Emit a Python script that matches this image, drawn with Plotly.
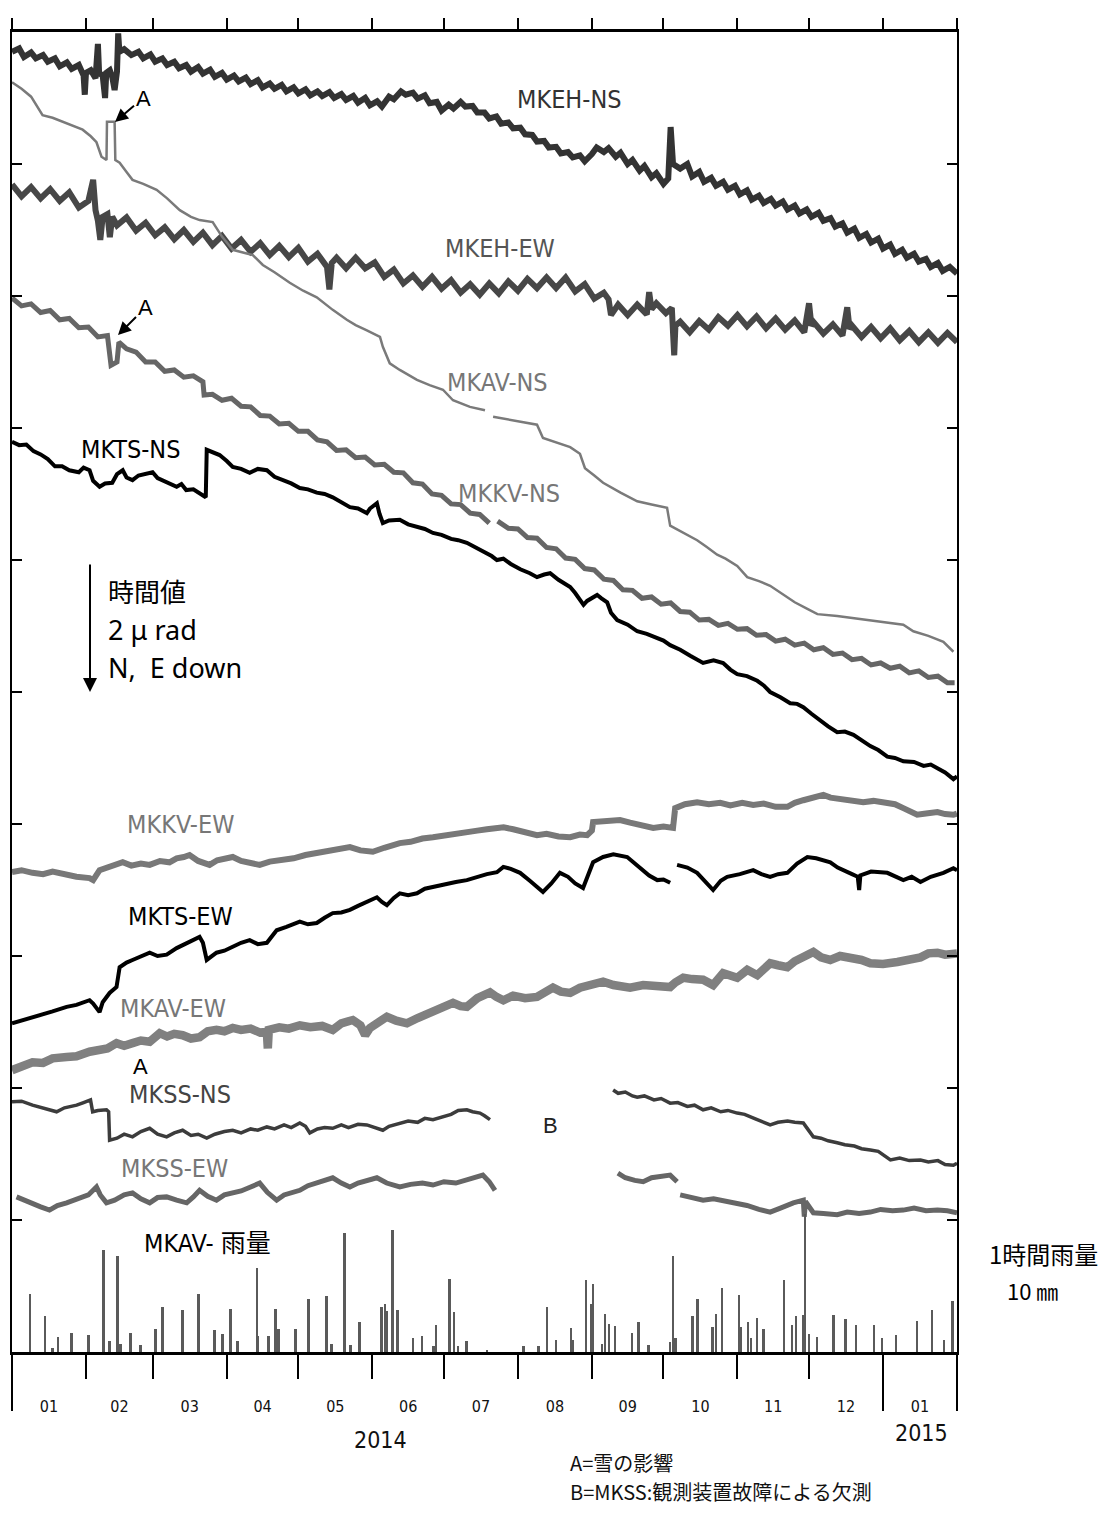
import plotly.graph_objects as go
import pandas as pd

START = pd.Timestamp("2014-01-01")
END = pd.Timestamp("2015-02-01")

# Tilt series: [day offset from 2014-01-01, tilt in µrad (down = positive offset)]; None = missing data
MKEH_NS = [[0,.30],[3,.25],[5,.38],[8,.31],[10,.40],[13,.35],[15,.45],[18,.40],[20,.52],[23,.46],[25,.56],[28,.50],[30,.66],[30.5,.95],[31,.62],[33,.58],[35,.70],[36,.18],[36.5,.62],[38,.66],[39,1.00],[39.5,.62],[41,.58],[42,.68],[43,.88],[44,.60],[44.5,.02],[45,.30],[47,.26],[50,.35],[53,.30],[55,.40],[58,.34],[60,.45],[63,.40],[65,.50],[68,.45],[70,.55],[73,.50],[75,.60],[78,.53],[80,.63],[83,.57],[85,.68],[88,.62],[90,.72],[93,.66],[95,.75],[98,.69],[100,.79],[103,.73],[105,.84],[108,.78],[110,.86],[113,.80],[115,.90],[118,.84],[120,.93],[123,.87],[125,.96],[128,.90],[130,.97],[133,.91],[135,1.00],[138,.94],[140,1.03],[143,.97],[145,1.07],[148,1.00],[150,1.11],[153,1.05],[155,1.13],[158,.98],[160,1.02],[163,.90],[165,.95],[168,.92],[170,1.01],[173,.96],[175,1.08],[178,1.06],[180,1.19],[183,1.10],[185,1.16],[188,1.06],[190,1.13],[193,1.12],[195,1.22],[198,1.22],[200,1.31],[203,1.28],[205,1.39],[208,1.37],[210,1.46],[213,1.45],[215,1.55],[218,1.56],[220,1.66],[223,1.65],[225,1.75],[228,1.74],[230,1.84],[233,1.82],[235,1.90],[238,1.87],[240,1.96],[243,1.85],[245,1.75],[248,1.82],[250,1.76],[253,1.89],[255,1.83],[258,2.00],[260,1.94],[263,2.10],[265,2.03],[268,2.20],[270,2.14],[273,2.30],[275,2.22],[276,1.44],[277,2.00],[280,2.07],[283,2.00],[285,2.19],[288,2.12],[290,2.27],[293,2.21],[295,2.33],[298,2.27],[300,2.39],[303,2.33],[305,2.46],[308,2.40],[310,2.54],[313,2.48],[315,2.59],[318,2.53],[320,2.63],[323,2.57],[325,2.69],[328,2.63],[330,2.75],[333,2.69],[335,2.80],[338,2.74],[340,2.86],[343,2.82],[345,2.95],[348,2.90],[350,3.04],[353,2.98],[355,3.12],[358,3.06],[360,3.19],[363,3.13],[365,3.28],[368,3.22],[370,3.36],[373,3.30],[375,3.42],[378,3.36],[380,3.48],[383,3.44],[385,3.56],[388,3.50],[390,3.62],[393,3.56],[396,3.66]]

MKEH_EW = [[0,2.31],[4,2.49],[8,2.35],[12,2.52],[16,2.38],[20,2.56],[24,2.43],[28,2.66],[32,2.56],[34,2.24],[35,2.70],[36,2.86],[37,3.15],[38,2.80],[40,2.76],[41,3.11],[42,2.80],[44,2.93],[48,2.81],[52,3.01],[56,2.89],[60,3.08],[64,2.96],[68,3.14],[72,3.00],[76,3.18],[80,3.04],[84,3.23],[88,3.09],[92,3.28],[96,3.15],[100,3.33],[104,3.20],[108,3.38],[112,3.24],[116,3.41],[120,3.27],[124,3.48],[128,3.36],[132,3.56],[133,3.90],[134,3.50],[136,3.42],[140,3.58],[144,3.42],[148,3.58],[152,3.49],[156,3.71],[160,3.60],[164,3.81],[168,3.69],[172,3.86],[176,3.71],[180,3.89],[184,3.76],[188,3.95],[192,3.82],[196,3.98],[200,3.81],[204,3.96],[208,3.78],[212,3.92],[216,3.74],[220,3.88],[224,3.72],[228,3.88],[232,3.72],[236,3.93],[240,3.82],[244,4.04],[248,3.95],[250,4.05],[251,4.29],[254,4.13],[258,4.29],[262,4.13],[266,4.28],[267,3.94],[268,4.20],[270,4.11],[274,4.26],[276.5,4.18],[277,4.55],[277.5,4.90],[278,4.45],[280,4.39],[284,4.55],[288,4.38],[292,4.51],[296,4.32],[300,4.45],[304,4.29],[308,4.46],[312,4.31],[316,4.49],[320,4.34],[324,4.51],[328,4.37],[332,4.55],[334,4.11],[335,4.45],[336,4.40],[340,4.57],[344,4.43],[348,4.60],[350,4.17],[351,4.50],[352,4.45],[356,4.62],[360,4.47],[364,4.64],[368,4.49],[372,4.67],[376,4.53],[380,4.70],[384,4.55],[388,4.71],[392,4.56],[396,4.70]]

MKAV_NS = [[0,.76],[4,.86],[8,.98],[12.8,1.26],[17,1.30],[22.9,1.38],[26,1.43],[29.6,1.48],[33,1.58],[35.4,1.67],[37.5,1.89],[39.6,1.94],[39.8,1.36],[43,1.36],[43.3,1.94],[45.1,1.98],[48,2.12],[50.5,2.24],[55,2.30],[60.6,2.39],[65,2.52],[70.3,2.70],[75,2.80],[78.6,2.85],[84.1,2.88],[88,3.10],[92.5,3.30],[96,3.33],[100.9,3.38],[105.1,3.53],[110,3.64],[116.4,3.80],[122,3.92],[127.7,4.02],[134.4,4.21],[140.3,4.36],[144,4.44],[148.7,4.52],[154.2,4.62],[155.4,4.77],[158.3,5.02],[162.5,5.12],[169.7,5.27],[175,5.35],[180.6,5.42],[184.8,5.58],[188,5.62],[191.9,5.68],[198.2,5.73],[200,None],[201.6,5.83],[210,5.88],[220,5.95],[222.5,6.15],[228,6.22],[233.9,6.29],[238,6.39],[240.1,6.61],[244,6.72],[247.7,6.83],[255,6.98],[262,7.11],[268,7.16],[274.5,7.21],[275.8,7.48],[281,7.58],[287.1,7.70],[291,7.80],[295.5,7.92],[299,7.98],[303.9,8.09],[308.1,8.26],[313,8.32],[317.7,8.39],[323.2,8.53],[328,8.64],[333.3,8.74],[337.5,8.82],[345.8,8.85],[352,8.88],[359.7,8.91],[366,8.94],[373.5,8.98],[377.7,9.08],[384,9.15],[390.3,9.24],[394.5,9.39]]

MKKV_NS = [[0,4.03],[4,4.15],[8,4.12],[12,4.25],[16,4.22],[20,4.36],[24,4.34],[28,4.48],[32,4.47],[36,4.62],[40,4.60],[41.5,5.05],[44,5.00],[44.8,4.70],[48,4.80],[52,4.85],[56,5.00],[60,5.00],[64,5.14],[68,5.12],[72,5.23],[76,5.21],[80,5.30],[80.5,5.50],[84,5.49],[88,5.58],[92,5.55],[96,5.67],[100,5.68],[104,5.81],[108,5.82],[112,5.94],[116,5.93],[120,6.05],[124,6.05],[128,6.18],[132,6.21],[136,6.34],[140,6.33],[144,6.45],[148,6.44],[152,6.56],[156,6.55],[160,6.67],[164,6.68],[168,6.83],[172,6.85],[176,7.00],[180,7.02],[184,7.15],[188,7.16],[192,7.29],[196,7.31],[200,7.44],[202,None],[203.5,7.41],[208,7.52],[212,7.53],[216,7.66],[220,7.67],[224,7.81],[228,7.83],[232,7.97],[236,7.99],[240,8.13],[244,8.15],[248,8.29],[252,8.31],[256,8.45],[260,8.46],[264,8.58],[268,8.56],[272,8.67],[276,8.65],[280,8.78],[284,8.79],[288,8.91],[292,8.90],[296,8.99],[300,8.96],[304,9.05],[308,9.04],[312,9.14],[316,9.13],[320,9.23],[324,9.20],[328,9.29],[332,9.26],[336,9.36],[340,9.33],[344,9.43],[348,9.41],[352,9.51],[356,9.49],[360,9.59],[364,9.56],[368,9.64],[372,9.61],[376,9.71],[380,9.68],[384,9.78],[388,9.76],[392,9.86],[395,9.86]]

MKTS_NS = [[0,6.21],[3,6.26],[6,6.25],[9,6.35],[12,6.40],[15,6.47],[18,6.58],[21,6.58],[24,6.64],[28,6.67],[30,6.60],[32.5,6.64],[34,6.80],[36.7,6.89],[39,6.84],[42,6.83],[44,6.70],[46.4,6.64],[48,6.75],[50.5,6.79],[53,6.72],[56,6.70],[58.9,6.67],[61,6.76],[63,6.79],[66,6.84],[69,6.89],[71,6.85],[73,6.94],[76,6.93],[79.9,7.02],[81.2,7.05],[81.6,6.33],[84,6.36],[87,6.41],[90,6.50],[92.5,6.59],[96,6.62],[99.6,6.68],[103,6.62],[106.8,6.64],[110,6.74],[113.5,6.79],[117,6.84],[120.6,6.91],[124,6.93],[127.7,6.98],[131,7.00],[134.4,7.05],[138,7.13],[141.6,7.20],[145,7.22],[148.7,7.29],[150,7.22],[152.9,7.14],[154,7.30],[155.4,7.44],[158,7.40],[162.5,7.39],[166,7.46],[169.7,7.50],[173,7.53],[176.4,7.59],[180,7.62],[184,7.68],[187,7.70],[190.6,7.74],[194,7.80],[198,7.88],[201,7.94],[203.2,8.00],[205.9,7.98],[209,8.06],[213,8.14],[217,8.20],[220,8.26],[223,8.22],[225.5,8.20],[229,8.30],[233.9,8.41],[236,8.50],[239.5,8.68],[241,8.62],[245.2,8.53],[247,8.58],[249.4,8.64],[251,8.80],[253.6,8.91],[258,8.98],[262,9.08],[266,9.12],[270.3,9.18],[273,9.22],[275.8,9.29],[280,9.36],[284.2,9.45],[287,9.50],[289.6,9.56],[294,9.52],[298,9.56],[301,9.66],[303.9,9.73],[308,9.76],[312.3,9.83],[315,9.90],[317.7,10.00],[322,10.08],[326.1,10.17],[329,10.18],[331.6,10.23],[335,10.33],[338.7,10.44],[342,10.52],[345.8,10.61],[349,10.60],[352.6,10.65],[356,10.74],[359.7,10.82],[363,10.88],[366.8,10.98],[370,11.00],[373.5,11.05],[378,11.06],[382,11.12],[385,11.10],[387.8,11.15],[391,11.22],[394.5,11.32],[396,11.28]]

MKKV_EW = [[0,12.73],[4,12.70],[8.6,12.74],[13,12.76],[17,12.72],[22.9,12.77],[27,12.80],[32.5,12.82],[34,12.85],[36.7,12.70],[40,12.66],[43,12.62],[46.4,12.58],[50,12.63],[54,12.60],[57.7,12.62],[62,12.56],[66,12.58],[69,12.52],[72,12.50],[74.4,12.47],[78,12.56],[82.8,12.62],[86,12.55],[89,12.53],[92.5,12.50],[96,12.56],[100,12.60],[103.8,12.62],[108,12.57],[113.5,12.55],[118,12.52],[123,12.47],[127.7,12.44],[132,12.42],[137,12.38],[141.6,12.35],[146,12.40],[151.2,12.42],[156,12.36],[162.5,12.29],[167,12.27],[172,12.22],[176.4,12.20],[181,12.18],[186,12.16],[190.6,12.14],[195,12.10],[199,12.08],[203.2,12.05],[206,12.05],[210,12.08],[214,12.12],[220,12.17],[224,12.15],[229,12.19],[233.9,12.20],[238,12.16],[241,12.17],[243,12.10],[243.5,11.97],[248,11.95],[254.8,11.94],[259,11.98],[264,12.03],[268.7,12.06],[273,12.04],[277,12.06],[277.9,11.76],[282,11.70],[287.1,11.67],[292,11.70],[296.8,11.68],[301,11.72],[306,11.68],[310.6,11.71],[315,11.69],[320,11.74],[324.9,11.74],[328,11.68],[331.6,11.64],[336,11.60],[340,11.56],[343,11.60],[345.8,11.61],[351,11.64],[356.7,11.67],[361,11.65],[366.8,11.67],[370,11.70],[373.5,11.76],[377,11.82],[379.3,11.86],[383,11.84],[387.8,11.82],[391,11.85],[394.5,11.86],[396,11.84]]

MKTS_EW = [[0,15.02],[4,14.98],[8.6,14.92],[13,14.88],[17,14.84],[22.9,14.77],[27,14.74],[32.5,14.67],[34,14.72],[36.7,14.85],[38,14.70],[40.9,14.56],[43.8,14.47],[45.1,14.17],[48,14.10],[50.5,14.06],[54,14.00],[57.7,13.95],[61,14.00],[64.8,13.98],[69,13.88],[73.2,13.80],[76,13.76],[78.6,13.71],[80,13.80],[81.6,14.06],[85.7,13.95],[89,13.92],[92.5,13.86],[96,13.80],[99.6,13.76],[103,13.82],[106.8,13.80],[110.9,13.61],[115,13.56],[120.6,13.48],[124,13.52],[127.7,13.50],[131,13.42],[134.4,13.35],[138,13.34],[141.6,13.30],[145,13.24],[148.7,13.18],[152.9,13.11],[155,13.18],[157.1,13.23],[160,13.12],[162.5,13.05],[166,13.08],[169.7,13.05],[173,12.98],[176.4,12.95],[181,12.92],[186,12.88],[190.6,12.85],[195,12.80],[199,12.76],[203.2,12.73],[205.9,12.65],[209,12.68],[212.9,12.74],[217,12.86],[222.5,13.03],[226,12.90],[229.6,12.74],[233,12.80],[236,12.90],[239.3,12.97],[241,12.80],[243.5,12.58],[247.7,12.50],[252,12.46],[257.8,12.50],[261,12.60],[264.5,12.70],[267,12.78],[270.4,12.85],[273,12.84],[275.8,12.89],[276.5,None],[278.7,12.62],[283,12.66],[287.1,12.74],[290,12.86],[293.8,13.00],[297,12.86],[299.7,12.80],[305,12.76],[310.6,12.70],[314,12.76],[317.7,12.80],[321,12.76],[324.9,12.74],[329,12.60],[333.3,12.50],[337,12.52],[342.9,12.58],[346,12.66],[350.2,12.74],[352,12.76],[354.4,12.80],[355,13.00],[355.5,12.78],[360,12.72],[366.8,12.74],[370,12.80],[373.5,12.85],[377,12.80],[380.7,12.88],[385,12.80],[390.3,12.74],[394.5,12.67],[396,12.70]]

MKAV_EW = [[0,15.73],[4,15.66],[8.6,15.61],[13,15.62],[17,15.55],[22.9,15.53],[27,15.52],[32.5,15.45],[37,15.40],[40,15.40],[43.8,15.32],[47,15.36],[50.5,15.32],[54,15.28],[57.7,15.30],[61.9,15.17],[65,15.22],[68,15.18],[71.5,15.20],[75,15.25],[78.6,15.23],[82,15.14],[85.7,15.12],[89,15.14],[92.5,15.09],[96,15.12],[100,15.10],[104,15.16],[106.8,15.15],[107.2,15.40],[107.6,15.12],[112,15.08],[116,15.10],[120.6,15.05],[125,15.08],[130,15.06],[134.4,15.12],[138,15.02],[142.8,14.97],[146,15.05],[148,15.20],[150,15.09],[154,14.98],[157.1,14.92],[161,14.98],[165.5,15.02],[170,14.94],[176.4,14.85],[180,14.80],[184.8,14.71],[188,14.76],[190.6,14.77],[195,14.64],[200.3,14.55],[203,14.62],[205.9,14.67],[210,14.60],[215,14.64],[220,14.62],[223,14.55],[226.7,14.48],[230,14.54],[233.9,14.56],[238,14.48],[242,14.44],[247.7,14.39],[252,14.44],[256,14.46],[259,14.48],[264.5,14.44],[270,14.46],[275.8,14.47],[278,14.40],[281.3,14.33],[285,14.35],[289.6,14.36],[293.8,14.44],[296,14.36],[298,14.26],[303.9,14.33],[308.1,14.21],[312.3,14.29],[315,14.20],[317.7,14.11],[321,14.14],[324.9,14.17],[328,14.08],[331.6,14.02],[335.8,13.94],[339,14.02],[342.9,14.06],[347,14.00],[352.6,14.03],[356,14.06],[359.7,14.11],[365,14.12],[371,14.09],[376,14.05],[380.7,14.02],[384,13.96],[387.8,13.95],[391,13.98],[394.5,13.98],[396,13.96]]

MKSS_NS = [[0,16.21],[4,16.20],[8.6,16.26],[13,16.30],[18.7,16.36],[22,16.30],[27.1,16.26],[30,16.22],[32.9,16.18],[33.8,16.36],[36,16.34],[39.6,16.33],[40.5,16.36],[40.9,16.79],[44,16.76],[47,16.70],[50.5,16.74],[54,16.66],[57.7,16.61],[61,16.70],[64.8,16.74],[68,16.68],[71.5,16.64],[75,16.72],[78,16.70],[81.6,16.76],[85,16.70],[89,16.66],[92.5,16.64],[96,16.68],[100,16.62],[103,16.64],[106.8,16.59],[110,16.62],[114,16.56],[117,16.60],[120.6,16.53],[123,16.58],[124.8,16.68],[128,16.62],[131,16.60],[134.4,16.61],[138,16.56],[141,16.60],[145,16.55],[148.7,16.56],[152,16.60],[155.4,16.64],[158,16.58],[162.5,16.53],[166,16.50],[170,16.52],[173,16.46],[176.4,16.48],[180,16.44],[184,16.40],[187,16.34],[190.6,16.33],[193,16.36],[196.1,16.38],[198,16.42],[200.3,16.48],[226,None],[251.9,16.03],[254,16.08],[257,16.06],[260,16.12],[262,16.14],[265,16.12],[269,16.18],[272,16.16],[275.8,16.23],[279,16.22],[283,16.28],[286,16.26],[289.6,16.33],[293,16.30],[297,16.36],[300,16.34],[303.9,16.38],[307,16.40],[311,16.46],[314,16.50],[317.7,16.56],[321,16.52],[325,16.50],[328,16.52],[331.6,16.53],[333,16.60],[335.8,16.74],[339,16.76],[342,16.80],[345.8,16.83],[349,16.86],[353,16.88],[356,16.92],[359.7,16.94],[363,16.96],[368.1,17.09],[372,17.06],[376,17.10],[380.7,17.09],[384,17.12],[388,17.10],[391,17.16],[394.5,17.17],[396,17.14]]

MKSS_EW = [[1.9,17.65],[5,17.70],[8.6,17.74],[12,17.80],[15.7,17.85],[19,17.78],[22.9,17.74],[26,17.70],[29.6,17.65],[32,17.62],[35.4,17.50],[37,17.62],[39.6,17.74],[43,17.70],[47,17.62],[50.5,17.59],[54,17.68],[57.7,17.74],[61,17.66],[64.8,17.65],[69,17.70],[73.2,17.74],[76,17.65],[78.6,17.55],[82,17.64],[85.7,17.70],[89,17.62],[92.5,17.59],[96,17.56],[100,17.50],[103.8,17.44],[107,17.58],[110.9,17.70],[114,17.62],[117,17.58],[120.6,17.55],[124,17.48],[129,17.42],[134.4,17.36],[138,17.44],[141.6,17.50],[145,17.44],[149,17.40],[152.9,17.36],[157,17.44],[162.5,17.50],[167,17.46],[172,17.44],[176.4,17.47],[181,17.42],[186,17.44],[190.6,17.39],[194,17.36],[197.3,17.32],[200,17.42],[202.4,17.55],[228,None],[253.9,17.29],[257,17.36],[261,17.40],[264.5,17.42],[268,17.36],[272,17.34],[275.8,17.32],[278.7,17.42],[279.3,None],[280,17.62],[284,17.66],[289.6,17.70],[294,17.68],[299,17.72],[303.9,17.74],[308,17.78],[313,17.84],[317.7,17.88],[322,17.82],[327.4,17.74],[331.6,17.70],[332,17.95],[332.5,17.72],[335.8,17.89],[340,17.90],[345.8,17.92],[350,17.88],[355,17.90],[359.7,17.88],[364,17.84],[369,17.86],[373.5,17.85],[378,17.82],[383,17.86],[387.8,17.85],[392,17.86],[396,17.89]]

# Hourly rainfall at MKAV: [day offset, mm]
RAIN = [[7.6,8.8],[13.9,5.5],[17.0,0.6],[19.5,2.3],[25.0,2.9],[32.1,2.6],[38.4,15.5],[40.9,1.7],[44.3,14.5],[45.5,1.2],[49.7,2.9],[53.9,1.1],[60.2,3.5],[63.1,6.8],[71.5,6.4],[78.2,8.8],[84.9,3.3],[88.3,2.7],[91.7,6.5],[94.6,1.7],[102.8,12.7],[103.3,2.4],[107.6,2.4],[110.5,6.5],[111.8,3.5],[118.9,3.5],[124.4,8.0],[131.9,8.5],[134.0,1.2],[139.5,18.0],[142.0,1.1],[145.8,4.5],[155.0,6.8],[156.3,7.3],[157.3,6.2],[159.6,18.5],[161.7,6.4],[168.2,2.1],[172.0,2.4],[176.8,0.9],[177.8,4.1],[183.5,11.1],[185.4,6.1],[186.9,0.9],[190.6,1.7],[199.2,0.3],[214.4,0.9],[220.8,0.9],[224.2,6.8],[228.0,1.8],[234.3,3.6],[235.3,1.8],[240.6,10.9],[242.7,7.3],[243.5,10.3],[247.3,1.2],[248.7,5.8],[250.2,4.2],[252.7,3.9],[259.9,2.9],[262.7,4.5],[266.8,1.1],[275.8,1.5],[277.1,14.5],[278.1,2.1],[285.3,5.5],[287.4,8.0],[293.7,3.8],[295.1,5.8],[297.6,9.7],[304.8,8.6],[305.6,3.8],[308.5,4.5],[309.8,2.1],[312.2,5.2],[315.1,3.5],[323.6,10.9],[327.0,4.1],[328.7,5.5],[331.6,5.6],[332.3,20.9],[334.0,2.7],[337.4,2.3],[344.4,5.6],[349.4,5.0],[353.7,4.1],[361.4,4.1],[364.7,2.1],[370.6,2.6],[379.4,4.7],[385.7,6.4],[390.7,1.8],[394.3,7.7]]

MONTH_LABELS = ["01", "02", "03", "04", "05", "06", "07", "08", "09", "10", "11", "12", "01"]
YEAR_LABELS = ["2014", "2015"]

NARROW = "DejaVu Sans Condensed, Liberation Sans Narrow, Noto Sans, Noto Sans CJK JP, sans-serif"
JP = "Noto Sans CJK JP, sans-serif"
LATIN = "Noto Sans, sans-serif"

OFF = 8  # page body margin of the browser
W, H = 1095, 1498
ML, MT = 4, 24
PW, PH = 945, 1320
MR = W - ML - PW
MB = H - MT - PH


def to_dates(days):
    return [START + pd.Timedelta(days=d) for d in days]


def P(px, py):
    # reference-image pixel position -> paper coordinates
    return (px - OFF - ML) / PW, (MT + PH - (py - OFF)) / PH


fig = go.Figure()

series = [
    (MKEH_NS, "#333333", 6.0),
    (MKEH_EW, "#474747", 6.0),
    (MKAV_NS, "#7a7a7a", 2.5),
    (MKKV_NS, "#666666", 5.0),
    (MKTS_NS, "#000000", 4.0),
    (MKKV_EW, "#787878", 6.0),
    (MKTS_EW, "#000000", 4.0),
    (MKAV_EW, "#808080", 8.5),
    (MKSS_NS, "#3c3c3c", 3.5),
    (MKSS_EW, "#666666", 5.0),
]
for data, color, width in series:
    days = [p[0] for p in data]
    vals = [p[1] for p in data]
    fig.add_trace(go.Scatter(x=to_dates(days), y=vals, mode="lines",
                             line=dict(color=color, width=width),
                             connectgaps=False, showlegend=False, hoverinfo="skip"))

rain_days = [r[0] for r in RAIN]
rain_mm = [r[1] for r in RAIN]
fig.add_trace(go.Bar(x=to_dates(rain_days), y=rain_mm, yaxis="y2",
                     width=0.8 * 86400000, marker=dict(color="#5a5a5a", line=dict(width=0)),
                     showlegend=False, hoverinfo="skip"))

# dummy traces to register the extra tick axes
fig.add_trace(go.Scatter(x=[START], y=[None], xaxis="x2", showlegend=False, hoverinfo="skip"))
fig.add_trace(go.Scatter(x=[START], y=[None], xaxis="x3", showlegend=False, hoverinfo="skip"))

month_starts = pd.date_range(START, END, freq="MS")
mid_months = [s + (e - s) / 2 for s, e in zip(month_starts[:-1], month_starts[1:])]

fig.update_layout(
    width=W, height=H,
    margin=dict(l=ML, r=MR, t=MT, b=MB),
    paper_bgcolor="white", plot_bgcolor="white",
    bargap=0,
    xaxis=dict(range=[START, END], showgrid=False, zeroline=False,
               showline=True, linecolor="black", linewidth=3, mirror=True,
               tickmode="array", tickvals=mid_months, ticktext=MONTH_LABELS,
               ticks="outside", ticklen=38, tickcolor="rgba(0,0,0,0)",
               tickfont=dict(family=NARROW, size=16, color="#111"),
               minor=dict(ticks="outside", ticklen=24, tickwidth=1.5, tickcolor="black",
                          dtick="M1", tick0="2014-01-01", showgrid=False)),
    xaxis2=dict(range=[START, END], overlaying="x", side="top", anchor="y",
                showgrid=False, zeroline=False, showline=False, showticklabels=False,
                tickmode="array", tickvals=list(month_starts),
                ticks="outside", ticklen=13, tickwidth=1.5, tickcolor="black"),
    xaxis3=dict(range=[START, END], overlaying="x", side="bottom", anchor="y",
                showgrid=False, zeroline=False, showline=False, showticklabels=False,
                tickmode="array", tickvals=[START, pd.Timestamp("2015-01-01"), END],
                ticks="outside", ticklen=58, tickwidth=1.5, tickcolor="black"),
    yaxis=dict(range=[20, 0], showgrid=False, zeroline=False,
               showline=True, linecolor="black", linewidth=2, mirror="ticks",
               tickmode="array", tickvals=[2, 4, 6, 8, 10, 12, 14, 16, 18],
               ticks="inside", ticklen=10, tickwidth=1.5, tickcolor="black",
               showticklabels=False),
    yaxis2=dict(range=[0, 200], overlaying="y", visible=False),
)

ann = []


def label(text, px, py, color="#000", size=25, family=NARROW, xanchor="center"):
    x, y = P(px, py)
    ann.append(dict(text=text, x=x, y=y, xref="paper", yref="paper", showarrow=False,
                    xanchor=xanchor, yanchor="middle",
                    font=dict(family=family, size=size, color=color)))


label("MKEH-NS", 569, 99, "#333")
label("MKEH-EW", 500, 248, "#555")
label("MKAV-NS", 497, 383, "#777")
label("MKKV-NS", 509, 493, "#777")
label("MKTS-NS", 131, 449, "#000")
label("MKKV-EW", 180, 824, "#777")
label("MKTS-EW", 180, 916, "#000")
label("MKAV-EW", 173, 1008, "#777")
label("MKSS-NS", 180, 1094, "#444")
label("MKSS-EW", 174, 1168, "#777")
label("MKAV- 雨量", 207, 1243, "#000", 25)
label("A", 140, 1066, "#000", 22, "Liberation Sans, sans-serif")
label("B", 550, 1125, "#222", 22, "Liberation Sans, sans-serif")
label("時間値", 106, 590, "#000", 26, JP, "left")
label("2 μ rad", 106, 629, "#000", 27, LATIN, "left")
label("N,  E down", 106, 667, "#000", 27, LATIN, "left")
label("1時間雨量", 1043, 1253, "#000", 24, JP)
label("10 ㎜", 1032, 1290, "#000", 22, JP)
label(YEAR_LABELS[0], 380, 1440, "#111", 23)
label(YEAR_LABELS[1], 921, 1433, "#111", 23)
label("A=雪の影響", 568, 1462, "#111", 20, JP, "left")
label("B=MKSS:観測装置故障による欠測", 568, 1491, "#111", 20, JP, "left")

# arrows marking snow effects (A) and the scale arrow
for head, tail in [((115, 122), (143, 98)), ((118, 335), (145, 308))]:
    hx, hy = P(*head)
    ann.append(dict(text="A", x=hx, y=hy, xref="paper", yref="paper",
                    ax=tail[0] - head[0], ay=tail[1] - head[1],
                    showarrow=True, arrowhead=2, arrowsize=1.3, arrowwidth=2,
                    arrowcolor="black", standoff=0,
                    font=dict(family="Liberation Sans, sans-serif", size=22, color="#000")))

hx, hy = P(90, 692)
ann.append(dict(text="", x=hx, y=hy, xref="paper", yref="paper", ax=0, ay=-129,
                showarrow=True, arrowhead=2, arrowsize=1.4, arrowwidth=2,
                arrowcolor="black", standoff=0))

fig.update_layout(annotations=ann)

fig.write_html("out.html")
